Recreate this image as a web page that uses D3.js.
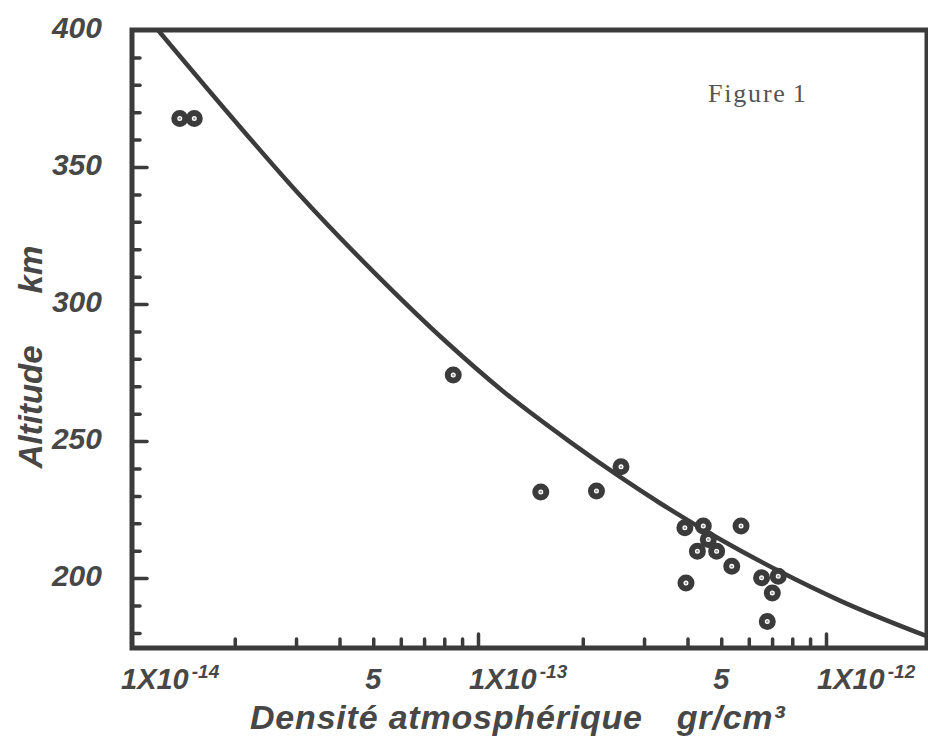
<!DOCTYPE html>
<html>
<head>
<meta charset="utf-8">
<script src="https://cdn.jsdelivr.net/npm/d3@7"></script>
<style>
  body { margin: 0; background: #fff; }
  svg { display: block; }
</style>
</head>
<body>
<script>
// measured points (density gr/cm3, altitude km)
var pointDensity = [1.39e-14, 1.53e-14, 8.49e-14, 1.515e-13, 2.19e-13, 2.576e-13,
  3.93e-13, 4.44e-13, 4.59e-13, 4.27e-13, 4.85e-13, 5.70e-13, 5.36e-13, 3.96e-13,
  6.53e-13, 7.29e-13, 7.01e-13, 6.78e-13];
var pointAltitude = [367.7, 367.7, 274.1, 231.4, 231.8, 240.6,
  218.4, 219, 214.1, 209.8, 209.8, 219, 204.3, 198.2,
  200.1, 200.7, 194.6, 184.2];

// model curve
var curveDensity = [1.203e-14, 1.938e-14, 3.08e-14, 5.06e-14, 8.04e-14, 1.18e-13, 1.838e-13,
  2.56e-13, 3.33e-13, 4.96e-13, 7.37e-13, 1.096e-12, 1.95e-12];
var curveAltitude = [400, 368.9, 339.7, 311.2, 286.6, 268.2, 249.7,
  236.9, 227.4, 214.2, 202.4, 191.8, 178.8];

var yTickValues = [200, 250, 300, 350, 400];
var yMinorTicks = [180, 190, 210, 220, 230, 240, 260, 270, 280, 290, 310, 320, 330, 340, 360, 370, 380, 390];
var xLabelValues = [1e-14, 5e-14, 1e-13, 5e-13, 1e-12];
var xLabelBase = ["1X10", "5", "1X10", "5", "1X10"];
var xLabelExp = ["-14", "", "-13", "", "-12"];

function draw_fig() {
  var width = 928, height = 751;
  var pl = 132, pt = 30, pr = 927, pb = 648;
  var ink = "#3b3b3b";
  var labelFont = "'Liberation Sans', Arial, sans-serif";

  var svg = d3.select("body").append("svg")
    .attr("width", width)
    .attr("height", height);

  var x = d3.scaleLog()
    .domain([1e-14, Math.pow(10, -12 + (pr - 826) / 348)])
    .range([pl - 2, pr]);

  var y = d3.scaleLinear()
    .domain([174.5, 400])
    .range([pb, pt]);

  // minor x ticks 2..9 in each decade, decade ticks taller
  var xMinor = [], xMajor = [1e-13, 1e-12];
  [1e-14, 1e-13].forEach(function(d) {
    for (var i = 2; i <= 9; i++) xMinor.push(d * i);
  });

  svg.append("defs").append("clipPath").attr("id", "plot")
    .append("rect")
    .attr("x", pl).attr("y", pt)
    .attr("width", pr - pl).attr("height", pb - pt);

  // y ticks (inward)
  svg.append("g")
    .attr("transform", "translate(" + pl + ",0)")
    .call(d3.axisRight(y).tickValues(yMinorTicks).tickSize(8).tickFormat(""))
    .call(function(g) { g.select(".domain").remove(); });
  svg.append("g")
    .attr("transform", "translate(" + pl + ",0)")
    .call(d3.axisRight(y).tickValues(yTickValues.slice(0, 4)).tickSize(15).tickFormat(""))
    .call(function(g) { g.select(".domain").remove(); });

  // x ticks (inward)
  svg.append("g")
    .attr("transform", "translate(0," + pb + ")")
    .call(d3.axisTop(x).tickValues(xMinor).tickSize(9).tickFormat(""))
    .call(function(g) { g.select(".domain").remove(); });
  svg.append("g")
    .attr("transform", "translate(0," + pb + ")")
    .call(d3.axisTop(x).tickValues(xMajor).tickSize(14).tickFormat(""))
    .call(function(g) { g.select(".domain").remove(); });

  svg.selectAll(".tick line")
    .attr("stroke", ink)
    .attr("stroke-width", 3.5)
    .attr("stroke-linecap", "round");

  // frame
  svg.append("rect")
    .attr("x", pl).attr("y", pt)
    .attr("width", pr - pl).attr("height", pb - pt)
    .attr("fill", "none")
    .attr("stroke", ink)
    .attr("stroke-width", 5);

  // y tick labels
  svg.selectAll(".ylab")
    .data(yTickValues)
    .enter().append("text")
    .attr("class", "ylab")
    .attr("x", 102)
    .attr("y", function(d) { return y(d) - 3; })
    .attr("dy", "0.36em")
    .attr("text-anchor", "end")
    .attr("font-family", labelFont)
    .attr("font-weight", "bold")
    .attr("font-style", "italic")
    .attr("font-size", 30)
    .attr("fill", "#474747")
    .text(function(d) { return d; });

  // x tick labels
  var xl = svg.selectAll(".xlab")
    .data(xLabelValues)
    .enter().append("text")
    .attr("class", "xlab")
    .attr("x", function(d, i) { return xLabelExp[i] ? x(d) - 9 : x(d); })
    .attr("y", 689)
    .attr("text-anchor", function(d, i) { return xLabelExp[i] ? "start" : "middle"; })
    .attr("font-family", labelFont)
    .attr("font-weight", "bold")
    .attr("font-style", "italic")
    .attr("font-size", 29)
    .attr("fill", "#474747");
  xl.append("tspan").text(function(d, i) { return xLabelBase[i]; });
  xl.append("tspan")
    .attr("dy", -11)
    .attr("dx", 3)
    .attr("font-size", 19)
    .text(function(d, i) { return xLabelExp[i]; });

  // curve
  var line = d3.line()
    .x(function(d) { return x(d[0]); })
    .y(function(d) { return y(d[1]); })
    .curve(d3.curveMonotoneX);

  svg.append("path")
    .datum(d3.zip(curveDensity, curveAltitude))
    .attr("clip-path", "url(#plot)")
    .attr("d", line)
    .attr("fill", "none")
    .attr("stroke", ink)
    .attr("stroke-width", 4.5);

  // points
  var pts = svg.selectAll(".pt")
    .data(d3.zip(pointDensity, pointAltitude))
    .enter().append("g")
    .attr("class", "pt")
    .attr("transform", function(d) { return "translate(" + x(d[0]) + "," + y(d[1]) + ")"; });
  pts.append("circle")
    .attr("r", 5.5)
    .attr("fill", "#fff")
    .attr("stroke", ink)
    .attr("stroke-width", 6);
  pts.append("circle")
    .attr("r", 1.2)
    .attr("fill", "#999");

  // axis titles
  svg.append("text")
    .attr("x", 250)
    .attr("y", 729)
    .attr("font-family", labelFont)
    .attr("font-weight", "bold")
    .attr("font-style", "italic")
    .attr("font-size", 34)
    .attr("letter-spacing", 0.8)
    .attr("fill", "#474747")
    .text("Densité atmosphérique")
    .append("tspan")
    .attr("dx", 34)
    .text("gr/cm³");

  svg.append("text")
    .attr("transform", "translate(42,357) rotate(-90)")
    .attr("text-anchor", "middle")
    .attr("font-family", labelFont)
    .attr("font-weight", "bold")
    .attr("font-style", "italic")
    .attr("font-size", 33)
    .attr("fill", "#474747")
    .text("Altitude")
    .append("tspan")
    .attr("dx", 52)
    .text("km");

  svg.append("text")
    .attr("x", 708)
    .attr("y", 102)
    .attr("font-family", "'Liberation Serif', 'Times New Roman', serif")
    .attr("font-size", 26)
    .attr("letter-spacing", 1.8)
    .attr("fill", "#555")
    .text("Figure")
    .append("tspan")
    .attr("dx", 6)
    .text("1");
}

draw_fig();
</script>
</body>
</html>
